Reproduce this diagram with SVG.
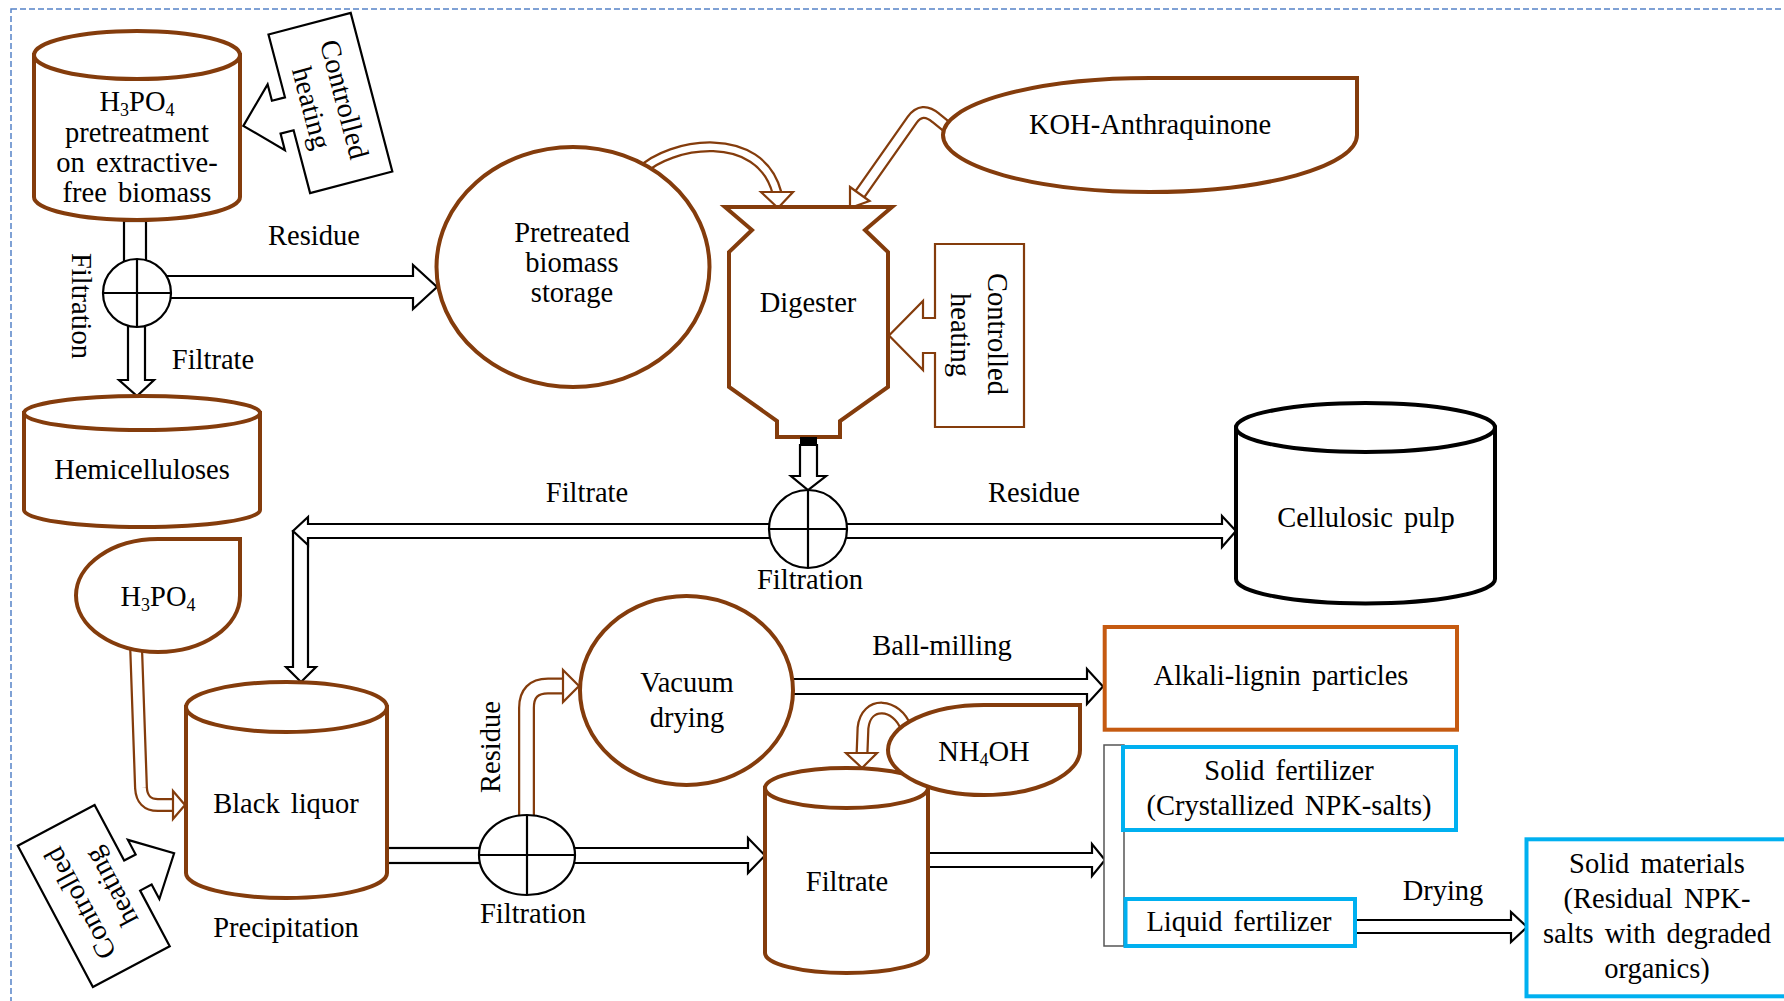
<svg xmlns="http://www.w3.org/2000/svg" width="1784" height="1001" viewBox="0 0 1784 1001">
  <style>
    .t { font-family: "Liberation Serif", "Times New Roman", serif; font-size: 28.5px; fill: #000; text-anchor: middle; word-spacing: 4px; }
    .sub { font-size: 18px; }
    .br { fill: #fff; stroke: #843C0C; stroke-width: 4; }
    .brThin { fill: #fff; stroke: #843C0C; stroke-width: 2.2; }
    .bk { fill: #fff; stroke: #000; stroke-width: 2.2; }
    .bk4 { fill: #fff; stroke: #000; stroke-width: 4; }
    .or { fill: #fff; stroke: #C55A11; stroke-width: 4; }
    .cy { fill: #fff; stroke: #00B0F0; stroke-width: 4; }
    .pipeO { fill: none; stroke: #843C0C; stroke-linejoin: round; }
    .pipeI { fill: none; stroke: #fff; stroke-linejoin: round; }
    .line { stroke: #000; stroke-width: 2.2; fill: none; }
  </style>

  <!-- outer dashed frame -->
  <rect x="11" y="9" width="1800" height="1100" fill="none" stroke="#5582C8" stroke-width="1.5" stroke-dasharray="6 3"/>

  <!-- ===== connectors ===== -->
  <g id="connectors">
    <!-- pretreatment tank to first filter -->
    <rect class="bk" x="124" y="221" width="22" height="42"/>
    <!-- filtrate down to hemicelluloses -->
    <path class="bk" d="M128,320 L128,380 L119,380 L137,396 L154,380 L145,380 L145,320 Z"/>
    <!-- residue to pretreated biomass storage -->
    <path class="bk" d="M137,276 L413,276 L413,265 L437,287 L413,309 L413,298 L137,298 Z"/>

    <!-- pretreated storage to digester (curved) -->
    <path class="pipeO" stroke-width="11" d="M640,172 C670,142 760,128 777,193"/>
    <path class="pipeI" stroke-width="6.5" d="M640,172 C670,142 760,128 777,193"/>
    <path class="brThin" d="M761,192 L793,192 L778,208 Z"/>

    <!-- KOH-anthraquinone to digester -->
    <path class="pipeO" stroke-width="13" d="M952,131 L936,118 Q922,106 912,120 L860,194"/>
    <path class="pipeI" stroke-width="8.5" d="M952,131 L936,118 Q922,106 912,120 L860,194"/>
    <path class="brThin" d="M869.5,201 L850,208 L850,187 Z"/>

    <!-- digester outlet to second filter -->
    <path class="bk" d="M800,445 L800,476 L791,476 L808,490 L826,476 L817,476 L817,445 Z"/>

    <!-- filtrate: left then down to black liquor -->
    <path class="bk" d="M293,531 L293,667 L286,667 L301,682 L316,667 L308,667 L308,531 Z"/>
    <path class="bk" d="M808,524 L308,524 L308,517 L293,531 L308,545 L308,538 L808,538 Z"/>
    <!-- residue to cellulosic pulp -->
    <path class="bk" d="M808,524 L1222,524 L1222,516 L1236,531 L1222,547 L1222,538 L808,538 Z"/>

    <!-- H3PO4 feed into black liquor -->
    <path class="pipeO" stroke-width="14" d="M136,645 L141,788 Q142,805 158,805 L174,805"/>
    <path class="pipeI" stroke-width="9.5" d="M136,645 L141,788 Q142,805 158,805 L174,805"/>
    <path class="brThin" d="M173,791 L185,805 L173,819 Z"/>

    <!-- black liquor to third filter -->
    <rect class="bk" x="380" y="848" width="110" height="15"/>
    <!-- third filter to filtrate tank -->
    <path class="bk" d="M527,848 L748,848 L748,838 L765,855.5 L748,873 L748,863 L527,863 Z"/>

    <!-- residue up to vacuum drying -->
    <path class="pipeO" stroke-width="17" d="M526.5,830 L526.5,708 Q526.5,686 548,686 L564,686"/>
    <path class="pipeI" stroke-width="12.5" d="M526.5,830 L526.5,708 Q526.5,686 548,686 L564,686"/>
    <path class="brThin" d="M563,670 L579,686 L563,702 Z"/>

    <!-- ball-milling to alkali-lignin particles -->
    <path class="bk" d="M780,679 L1087,679 L1087,669 L1103,686.5 L1087,704 L1087,694 L780,694 Z"/>

    <!-- NH4OH into filtrate tank (curved) -->
    <path class="pipeO" stroke-width="13" d="M906,728 C897,703 866,700 863,728 L862,754"/>
    <path class="pipeI" stroke-width="8.5" d="M906,728 C897,703 866,700 863,728 L862,754"/>
    <path class="brThin" d="M846,753 L877,753 L862,768 Z"/>

    <!-- filtrate tank to fertilizer split -->
    <path class="bk" d="M900,853 L1092,853 L1092,844 L1105,860 L1092,876 L1092,867 L900,867 Z"/>
    <!-- drying of liquid fertilizer -->
    <path class="bk" d="M1340,920 L1511,920 L1511,912 L1527,927 L1511,942 L1511,933 L1340,933 Z"/>
  </g>

  <!-- ===== nodes ===== -->
  <g id="pretreatment-tank">
    <path class="br" d="M34,55 L34,197 A103,23 0 0 0 240,197 L240,55 Z"/>
    <ellipse class="br" cx="137" cy="55" rx="103" ry="24"/>
    <text class="t" x="137" y="111">H<tspan class="sub" dy="5">3</tspan><tspan dy="-5">PO</tspan><tspan class="sub" dy="5">4</tspan></text>
    <text class="t" x="137" y="142">pretreatment</text>
    <text class="t" x="137" y="172">on extractive-</text>
    <text class="t" x="137" y="202">free biomass</text>
  </g>

  <g id="heating-1" transform="translate(330.4,103) rotate(-14.7)">
    <path class="bk" d="M-42.5,-82 H42.5 V82 H-42.5 V17 H-56 V34 L-90,0 L-56,-34 V-17 H-42.5 Z"/>
    <text class="t" transform="translate(5,0) rotate(90)">Controlled</text>
    <text class="t" transform="translate(-29,0) rotate(90)">heating</text>
  </g>

  <g id="filter-1">
    <circle class="bk" cx="137" cy="293" r="34"/>
    <path class="line" d="M137,259 V327 M103,293 H171"/>
    <text class="t" transform="translate(72,306) rotate(90)">Filtration</text>
  </g>
  <text class="t" x="314" y="245">Residue</text>
  <text class="t" x="213" y="369">Filtrate</text>

  <g id="hemicelluloses">
    <path class="br" d="M24,413 L24,510 A118,17 0 0 0 260,510 L260,413 Z"/>
    <ellipse class="br" cx="142" cy="413" rx="118" ry="17"/>
    <text class="t" x="142" y="479">Hemicelluloses</text>
  </g>

  <g id="pretreated-storage">
    <ellipse class="br" cx="573" cy="267" rx="136.5" ry="120"/>
    <text class="t" x="572" y="242">Pretreated</text>
    <text class="t" x="572" y="272">biomass</text>
    <text class="t" x="572" y="302">storage</text>
  </g>

  <g id="koh-anthraquinone">
    <path class="br" d="M1357,78 L1357,135 A207,57 0 0 1 1150,192 A207,57 0 0 1 943,135 A207,57 0 0 1 1150,78 Z"/>
    <text class="t" x="1150" y="134">KOH-Anthraquinone</text>
  </g>

  <g id="digester">
    <path class="br" d="M725,207 L892,207 L865,230 L888,252 L888,387 L840,421 L840,437 L777,437 L777,421 L729,387 L729,252 L752,230 Z"/>
    <rect x="800" y="437" width="17" height="8" fill="#000"/>
    <text class="t" x="808" y="312">Digester</text>
  </g>

  <g id="heating-2">
    <path class="brThin" d="M935,244 H1024 V427 H935 V353 H923 V370 L889,335.5 L923,301 V318 H935 Z"/>
    <text class="t" transform="translate(988,334) rotate(90)">Controlled</text>
    <text class="t" transform="translate(951,335) rotate(90)">heating</text>
  </g>

  <g id="filter-2">
    <circle class="bk" cx="808" cy="529" r="39"/>
    <path class="line" d="M808,490 V568 M769,529 H847"/>
    <text class="t" x="810" y="589">Filtration</text>
  </g>
  <text class="t" x="587" y="502">Filtrate</text>
  <text class="t" x="1034" y="502">Residue</text>

  <g id="cellulosic-pulp">
    <path class="bk4" d="M1236,427.5 L1236,579 A129.5,24.5 0 0 0 1495,579 L1495,427.5 Z"/>
    <ellipse class="bk4" cx="1365.5" cy="427.5" rx="129.5" ry="24.5"/>
    <text class="t" x="1366" y="527">Cellulosic pulp</text>
  </g>

  <g id="h3po4">
    <path class="br" d="M240,539 L240,595.5 A82,56.5 0 0 1 158,652 A82,56.5 0 0 1 76,595.5 A82,56.5 0 0 1 158,539 Z"/>
    <text class="t" x="158" y="606">H<tspan class="sub" dy="5">3</tspan><tspan dy="-5">PO</tspan><tspan class="sub" dy="5">4</tspan></text>
  </g>

  <g id="black-liquor">
    <path class="br" d="M186,707 L186,873 A100.5,25 0 0 0 387,873 L387,707 Z"/>
    <ellipse class="br" cx="286.5" cy="707" rx="100.5" ry="25"/>
    <text class="t" x="286" y="813">Black liquor</text>
    <text class="t" x="286" y="937">Precipitation</text>
  </g>

  <g id="heating-3" transform="translate(93.75,896) rotate(-28)">
    <path class="bk" d="M43.5,-80 H-43.5 V80 H43.5 V17 H56.5 V33.5 L91,0 L56.5,-33.5 V-17 H43.5 Z"/>
    <text class="t" transform="translate(-6,0) rotate(-90)">Controlled</text>
    <text class="t" transform="translate(29,0) rotate(-90)">heating</text>
  </g>

  <g id="filter-3">
    <ellipse class="bk" cx="527" cy="855" rx="48" ry="40"/>
    <path class="line" d="M527,815 V895 M479,855 H575"/>
    <text class="t" x="533" y="923">Filtration</text>
    <text class="t" transform="translate(500,747) rotate(-90)">Residue</text>
  </g>

  <g id="vacuum-drying">
    <ellipse class="br" cx="686.5" cy="690.5" rx="106.5" ry="94.5"/>
    <text class="t" x="687" y="692">Vacuum</text>
    <text class="t" x="687" y="727">drying</text>
  </g>
  <text class="t" x="942" y="655">Ball-milling</text>

  <g id="alkali-lignin">
    <rect class="or" x="1104.7" y="627" width="352.3" height="102.7"/>
    <text class="t" x="1281" y="685">Alkali-lignin particles</text>
  </g>

  <g id="filtrate-tank">
    <path class="br" d="M765,788 L765,953 A81.5,20 0 0 0 928,953 L928,788 Z"/>
    <ellipse class="br" cx="846.5" cy="788" rx="81.5" ry="20"/>
    <text class="t" x="847" y="891">Filtrate</text>
  </g>

  <g id="nh4oh">
    <path class="br" d="M1080,705 L1080,750 A96,45 0 0 1 984,795 A96,45 0 0 1 888,750 A96,45 0 0 1 984,705 Z"/>
    <text class="t" x="984" y="761">NH<tspan class="sub" dy="5">4</tspan><tspan dy="-5">OH</tspan></text>
  </g>

  <g id="split-bar">
    <rect x="1104" y="745" width="20" height="201" fill="#fff" stroke="#555" stroke-width="1.5"/>
  </g>

  <g id="solid-fertilizer">
    <rect class="cy" x="1123" y="747" width="333" height="83"/>
    <text class="t" x="1289" y="780">Solid fertilizer</text>
    <text class="t" x="1289" y="815">(Crystallized NPK-salts)</text>
  </g>

  <g id="liquid-fertilizer">
    <rect class="cy" x="1125.5" y="899" width="229.5" height="47"/>
    <text class="t" x="1239" y="931">Liquid fertilizer</text>
  </g>
  <text class="t" x="1443" y="900">Drying</text>

  <g id="solid-materials">
    <rect class="cy" x="1526.5" y="839.3" width="300" height="157"/>
    <text class="t" x="1657" y="873">Solid materials</text>
    <text class="t" x="1657" y="908">(Residual NPK-</text>
    <text class="t" x="1657" y="943">salts with degraded</text>
    <text class="t" x="1657" y="978">organics)</text>
  </g>
</svg>
